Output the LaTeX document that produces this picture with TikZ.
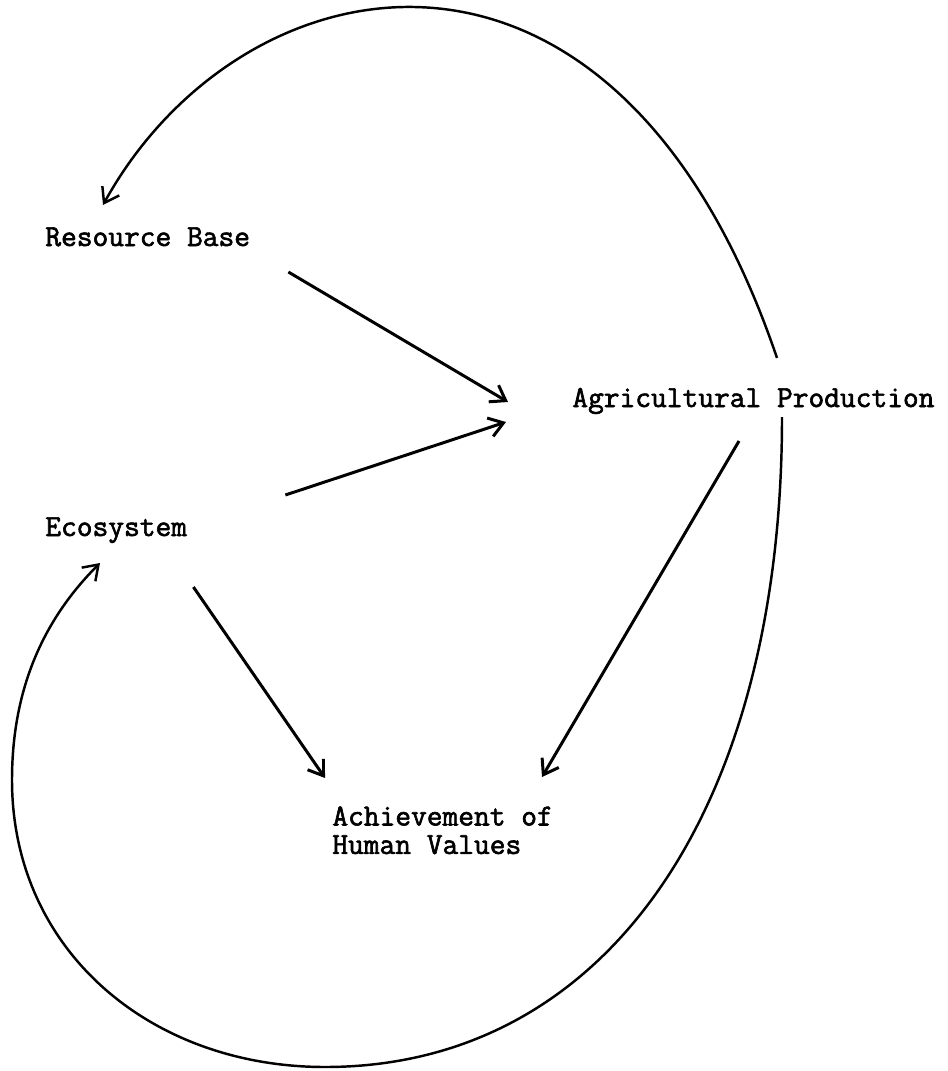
\documentclass[tikz,border=0pt]{standalone}
\usepackage{fontspec}
\setmonofont{Latin Modern Mono}[FakeBold=2]
\usetikzlibrary{arrows.meta}

\tikzset{
	factor/.style = {anchor = base west, inner sep = 0pt, font = \ttfamily\fontsize{17.4}{16.2}\selectfont},
	link/.style = {->, line width = 1.7pt},
	loop/.style = {->, line width = 1.4pt}
}

\begin{document}
\begin{tikzpicture}[x = 0.02cm, y = -0.02cm, >= {Straight Barb[length = 8pt, width = 11pt]}]

	% Frame
	
	\useasboundingbox (0, 0) rectangle (947, 1071);
	
	% Factors
	
	\node [factor] (rb) at (45, 246) {Resource Base};
	\node [factor] (ap) at (572, 407) {Agricultural Production};
	\node [factor] (eco) at (45, 536) {Ecosystem};
	\node [factor, anchor = north west, align = left] (ach) at (332, 806) {Achievement of\\Human Values};
	
	% Direct links
	
	\draw [link] ([shift = {(38, 26)}] rb.base east) -- ([shift = {(-64, -5)}] ap.base west);
	\draw [link] ([shift = {(98, -41)}] eco.base east) -- ([shift = {(-66, 15)}] ap.base west);
	\draw [link] ([shift = {(6, 51)}] eco.base east) -- ([shift = {(-7, -28)}] ach.north west);
	\draw [link] ([shift = {(167, 34)}] ap.base west) -- ([shift = {(210, -29)}] ach.north west);
	
	% Feedback loops
	
	\draw [loop] ([shift = {(205, -49)}] ap.base west)
		.. controls (614, -122) and (240, -44) .. ([shift = {(58, -41)}] rb.base west);
	\draw [loop] ([shift = {(210, 10)}] ap.base west)
		.. controls (782, 812) and (605, 1067) .. (325, 1067)
		.. controls (150, 1067) and (12, 950) .. (12, 780)
		.. controls (12, 680) and (50, 613) .. ([shift = {(55, 27)}] eco.base west);

\end{tikzpicture}
\end{document}
